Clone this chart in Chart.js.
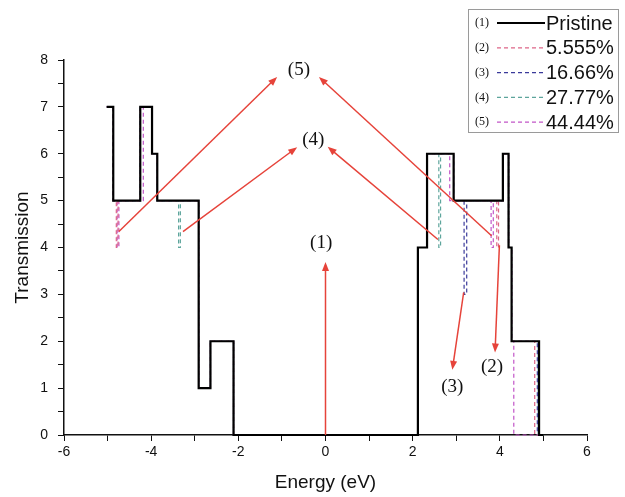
<!DOCTYPE html>
<html>
<head>
<meta charset="utf-8">
<script src="https://cdn.jsdelivr.net/npm/chart.js@4.4.1/dist/chart.umd.min.js"></script>
<style>
  html, body { margin: 0; padding: 0; background: #fff; }
  #wrap { width: 625px; height: 497px; }
</style>
</head>
<body>
<div id="wrap"><canvas id="trans" width="625" height="497"></canvas></div>
<script>
// step edges (eV) and transmission level held from each edge
const pristineE = [-5.02, -4.87, -4.25, -3.98, -3.86, -2.91, -2.64, -2.11, 2.12, 2.33, 2.94, 4.07, 4.20, 4.27, 4.90, 5.0];
const pristineT = [7, 5, 7, 6, 5, 1, 2, 0, 4, 6, 5, 6, 4, 2, 0, 0];

const s2E = [-5.02, -4.87, -4.80, -4.76, -4.25, -3.98, -3.86, -2.91, -2.64, -2.11, 2.12, 2.33, 2.94, 3.93, 3.97, 4.07, 4.20, 4.27, 4.80, 5.0];
const s2T = [7, 5, 4, 5, 7, 6, 5, 1, 2, 0, 4, 6, 5, 4, 5, 6, 4, 2, 0, 0];

const s3E = [-5.02, -4.87, -4.25, -3.98, -3.86, -2.91, -2.64, -2.11, 2.12, 2.33, 2.94, 3.18, 3.24, 4.07, 4.20, 4.27, 4.86, 5.0];
const s3T = [7, 5, 7, 6, 5, 1, 2, 0, 4, 6, 5, 3, 5, 6, 4, 2, 0, 0];

const s4E = [-5.02, -4.87, -4.25, -3.98, -3.86, -3.37, -3.33, -2.91, -2.64, -2.11, 2.12, 2.33, 2.60, 2.64, 2.94, 4.07, 4.20, 4.27, 4.88, 5.0];
const s4T = [7, 5, 7, 6, 5, 4, 5, 1, 2, 0, 4, 6, 4, 6, 5, 6, 4, 2, 0, 0];

const s5E = [-5.02, -4.87, -4.78, -4.74, -4.18, -3.98, -3.86, -2.91, -2.64, -2.11, 2.12, 2.33, 2.85, 3.80, 3.85, 4.07, 4.20, 4.27, 4.32, 5.0];
const s5T = [7, 5, 4, 5, 7, 6, 5, 1, 2, 0, 4, 6, 5, 4, 5, 6, 4, 2, 0, 0];

const tags = ['(1)', '(2)', '(3)', '(4)', '(5)'];
const names = ['Pristine', '5.555%', '16.66%', '27.77%', '44.44%'];
const colors = ['#000000', '#dd6688', '#3a3a9a', '#5da59c', '#c256c8'];

// annotation labels and arrows, in data units
const notes = [
  { text: '(5)', at: [-0.61, 7.79], arrows: [[-4.74, 4.34, -1.11, 7.64], [3.81, 4.25, -0.15, 7.64]] },
  { text: '(4)', at: [-0.28, 6.29], arrows: [[-3.27, 4.34, -0.65, 6.14], [2.58, 4.17, 0.05, 6.15]] },
  { text: '(1)', at: [-0.10, 4.09], arrows: [[0, 0, 0, 3.69]] },
  { text: '(3)', at: [2.91, 1.03], arrows: [[3.17, 3.04, 2.91, 1.39]] },
  { text: '(2)', at: [3.82, 1.46], arrows: [[3.99, 4.05, 3.89, 1.76]] }
];

const pts = (e, t) => e.map((x, i) => ({ x: x, y: t[i] }));
const series = [pts(pristineE, pristineT), pts(s2E, s2T), pts(s3E, s3T), pts(s4E, s4T), pts(s5E, s5T)];

const annotate = {
  id: 'annotate',
  afterDatasetsDraw(chart) {
    const c = chart.ctx, xs = chart.scales.x, ys = chart.scales.y;
    c.save();
    c.strokeStyle = '#e6433a';
    c.fillStyle = '#e6433a';
    c.lineWidth = 1.5;
    notes.forEach(n => {
      n.arrows.forEach(a => {
        const x0 = xs.getPixelForValue(a[0]), y0 = ys.getPixelForValue(a[1]);
        const x1 = xs.getPixelForValue(a[2]), y1 = ys.getPixelForValue(a[3]);
        const ang = Math.atan2(y1 - y0, x1 - x0);
        c.beginPath();
        c.moveTo(x0, y0);
        c.lineTo(x1 - 6 * Math.cos(ang), y1 - 6 * Math.sin(ang));
        c.stroke();
        c.beginPath();
        c.moveTo(x1, y1);
        c.lineTo(x1 - 9 * Math.cos(ang) + 3.5 * Math.sin(ang), y1 - 9 * Math.sin(ang) - 3.5 * Math.cos(ang));
        c.lineTo(x1 - 9 * Math.cos(ang) - 3.5 * Math.sin(ang), y1 - 9 * Math.sin(ang) + 3.5 * Math.cos(ang));
        c.closePath();
        c.fill();
      });
    });
    c.fillStyle = '#111';
    c.font = '19px "Liberation Serif", "DejaVu Serif", serif';
    c.textAlign = 'center';
    c.textBaseline = 'middle';
    notes.forEach(n => {
      c.fillText(n.text, xs.getPixelForValue(n.at[0]), ys.getPixelForValue(n.at[1]));
    });
    c.restore();
  },
  afterDraw(chart) {
    // boxed legend, top right
    const c = chart.ctx;
    const bx = 468, by = 9, bw = 150, bh = 123;
    c.save();
    c.fillStyle = '#fff';
    c.fillRect(bx, by, bw, bh);
    c.strokeStyle = '#9a9a9a';
    c.lineWidth = 1;
    c.strokeRect(bx + 0.5, by + 0.5, bw, bh);
    names.forEach((nm, i) => {
      const y = 23 + i * 24.8;
      c.fillStyle = '#111';
      c.font = '12px "Liberation Serif", serif';
      c.textAlign = 'left';
      c.textBaseline = 'middle';
      c.fillText(tags[i], 475, y);
      c.strokeStyle = colors[i];
      c.lineWidth = i === 0 ? 2 : 1.2;
      c.setLineDash(i === 0 ? [] : [4, 3]);
      c.beginPath();
      c.moveTo(497, y);
      c.lineTo(545, y);
      c.stroke();
      c.setLineDash([]);
      c.font = '20px "Liberation Sans", Arial, sans-serif';
      c.fillText(nm, 546, y + 1);
    });
    c.restore();
  }
};

const datasets = series.map((d, i) => ({
  label: names[i],
  data: d,
  stepped: 'before',
  borderColor: colors[i],
  borderWidth: i === 0 ? 2.2 : 1.2,
  borderDash: i === 0 ? [] : [4, 3],
  pointRadius: 0,
  clip: 4,
  fill: false
}));

new Chart(document.getElementById('trans'), {
  type: 'line',
  data: { datasets: datasets },
  plugins: [annotate],
  options: {
    responsive: false,
    animation: false,
    layout: { padding: { top: 60, right: 38, left: 0, bottom: 0 } },
    plugins: { legend: { display: false }, tooltip: { enabled: false } },
    scales: {
      x: {
        type: 'linear',
        min: -6, max: 6,
        afterFit(s) { s.height = 62; },
        border: { display: true, color: '#111', width: 1.5 },
        grid: { drawOnChartArea: false, drawTicks: true, tickLength: 6, tickColor: '#111', tickWidth: 1 },
        ticks: {
          stepSize: 1, padding: 3, color: '#111',
          font: { family: '"Liberation Sans", Arial, sans-serif', size: 14 },
          callback: v => (v % 2 === 0 ? String(v) : '')
        },
        title: {
          display: true, text: 'Energy (eV)', color: '#111',
          font: { family: '"Liberation Sans", Arial, sans-serif', size: 19 },
          padding: { top: 0, bottom: 3 }
        }
      },
      y: {
        min: 0, max: 8,
        afterFit(s) { s.width = 64; },
        border: { display: true, color: '#111', width: 1.5 },
        grid: { drawOnChartArea: false, drawTicks: true, tickLength: 6, tickColor: '#111', tickWidth: 1 },
        ticks: {
          stepSize: 0.5, padding: 10, color: '#111',
          font: { family: '"Liberation Sans", Arial, sans-serif', size: 14 },
          callback: v => (Number.isInteger(v) ? String(v) : '')
        },
        title: {
          display: true, text: 'Transmission', color: '#111',
          font: { family: '"Liberation Sans", Arial, sans-serif', size: 19 },
          padding: { top: 11, bottom: 0 }
        }
      }
    }
  }
});
</script>
</body>
</html>
